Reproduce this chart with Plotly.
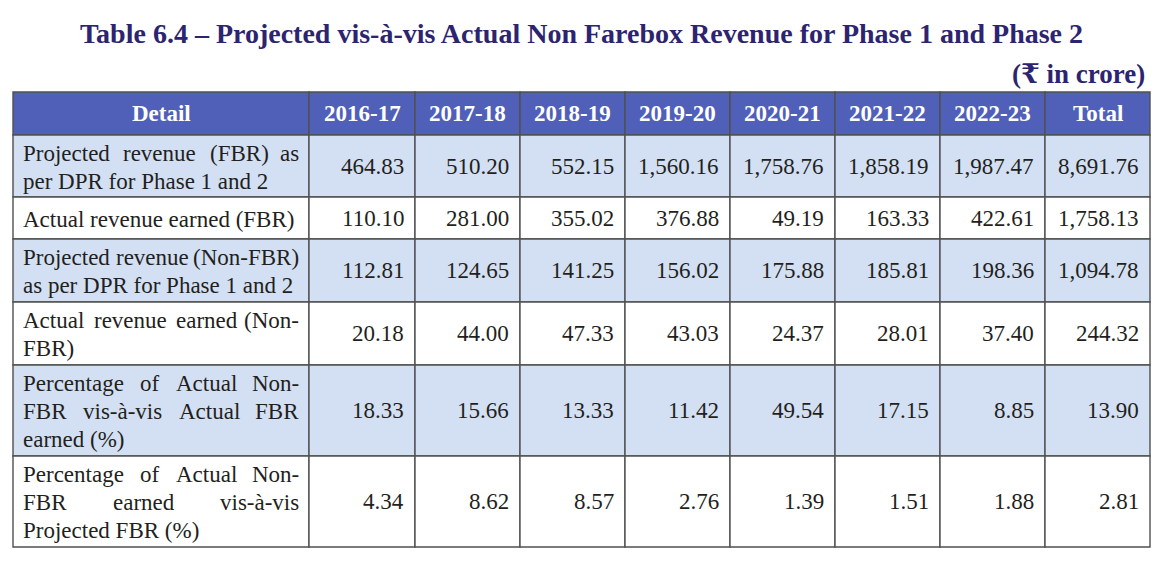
import plotly.graph_objects as go

# ---- table data -------------------------------------------------------
title = "Table 6.4 – Projected vis-à-vis Actual Non Farebox Revenue for Phase 1 and Phase 2"
unit_note = "(₹ in crore)"
header = ["Detail", "2016-17", "2017-18", "2018-19", "2019-20",
          "2020-21", "2021-22", "2022-23", "Total"]

# detail text, already broken into the lines shown in the report
details = [
    ["Projected revenue (FBR) as", "per DPR for Phase 1 and 2"],
    ["Actual revenue earned (FBR)"],
    ["Projected revenue (Non-FBR)", "as per DPR for Phase 1 and 2"],
    ["Actual revenue earned (Non-", "FBR)"],
    ["Percentage of Actual Non-", "FBR vis-à-vis Actual FBR", "earned (%)"],
    ["Percentage of Actual Non-", "FBR earned vis-à-vis", "Projected FBR (%)"],
]

proj_fbr  = [464.83, 510.20, 552.15, 1560.16, 1758.76, 1858.19, 1987.47, 8691.76]
act_fbr   = [110.10, 281.00, 355.02, 376.88, 49.19, 163.33, 422.61, 1758.13]
proj_nfbr = [112.81, 124.65, 141.25, 156.02, 175.88, 185.81, 198.36, 1094.78]
act_nfbr  = [20.18, 44.00, 47.33, 43.03, 24.37, 28.01, 37.40, 244.32]
pct_act   = [18.33, 15.66, 13.33, 11.42, 49.54, 17.15, 8.85, 13.90]
pct_proj  = [4.34, 8.62, 8.57, 2.76, 1.39, 1.51, 1.88, 2.81]

values = [proj_fbr, act_fbr, proj_nfbr, act_nfbr, pct_act, pct_proj]

# ---- layout (pixel grid) ----------------------------------------------
WIDTH, HEIGHT = 1165, 562
col_edges = [13, 309, 415, 520, 625, 730, 835, 940, 1045, 1150]
row_edges = [92, 135, 197, 239, 302, 365, 456, 547]

SERIF = "Liberation Serif, Times New Roman, DejaVu Serif, serif"
TITLE_COLOR = "#2d2470"
HEAD_FILL = "#5060b9"
LIGHT_FILL = "#d3e0f3"
LINE_COLOR = "#505050"
TEXT_COLOR = "#231f20"
FONT_SIZE = 23
LINE_GAP = 28

# Times-style advance widths (per 1000 em) for justifying the Detail column
CHAR_W = {
    " ": 250, "(": 333, ")": 333, "-": 333, "%": 833, ".": 250,
    "A": 722, "B": 667, "D": 722, "F": 556, "N": 722, "P": 556, "R": 667,
    "a": 444, "c": 444, "d": 500, "e": 444, "f": 333, "g": 500, "h": 500,
    "i": 278, "j": 278, "l": 278, "n": 500, "o": 500, "p": 500, "r": 333,
    "s": 389, "t": 278, "u": 500, "v": 500, "à": 444,
}


def text_width(s, size=FONT_SIZE):
    return sum(CHAR_W.get(c, 500) for c in s) * size / 1000


fig = go.Figure()
annotations = []
shapes = []

# cell backgrounds + borders
for r in range(len(row_edges) - 1):
    if r == 0:
        fill = HEAD_FILL
    else:
        fill = LIGHT_FILL if r % 2 == 1 else "white"
    for c in range(len(col_edges) - 1):
        shapes.append(dict(
            type="rect", xref="x", yref="y", layer="below",
            x0=col_edges[c], x1=col_edges[c + 1],
            y0=row_edges[r], y1=row_edges[r + 1],
            fillcolor=fill, line=dict(color=LINE_COLOR, width=1.4),
        ))


def add_text(x, y, text, anchor="left", color=TEXT_COLOR, size=FONT_SIZE, bold=False):
    annotations.append(dict(
        x=x, y=y, xref="x", yref="y", text=f"<b>{text}</b>" if bold else text,
        showarrow=False, xanchor=anchor, yanchor="middle", borderpad=0,
        font=dict(family=SERIF, size=size, color=color),
    ))


# title and unit note
add_text(581, 33, title, anchor="center", color=TITLE_COLOR, size=28, bold=True)
add_text(1146, 74, unit_note, anchor="right", color=TITLE_COLOR, size=27, bold=True)

# header row
head_mid = (row_edges[0] + row_edges[1]) / 2
for c, label in enumerate(header):
    add_text((col_edges[c] + col_edges[c + 1]) / 2, head_mid, label,
             anchor="center", color="white", size=23, bold=True)

# body rows
text_x0 = col_edges[0] + 9
text_x1 = col_edges[1] - 9
for r, (lines, row_vals) in enumerate(zip(details, values)):
    top, bot = row_edges[r + 1], row_edges[r + 2]
    mid = (top + bot) / 2 + 1
    n = len(lines)
    for i, line in enumerate(lines):
        y = mid + (i - (n - 1) / 2) * LINE_GAP
        words = line.split(" ")
        if i == n - 1 or len(words) == 1:
            add_text(text_x0, y, line)
            continue
        widths = [text_width(w) for w in words]
        gap = (text_x1 - text_x0 - sum(widths)) / (len(words) - 1)
        x = text_x0
        for k, w in enumerate(words):
            if k == len(words) - 1:
                add_text(text_x1, y, w, anchor="right")
            else:
                add_text(x, y, w)
            x += widths[k] + gap
    for c, v in enumerate(row_vals):
        add_text(col_edges[c + 2] - 10, mid - 1, f"{v:,.2f}", anchor="right")

fig.update_layout(
    width=WIDTH, height=HEIGHT,
    margin=dict(l=0, r=0, t=0, b=0),
    paper_bgcolor="white", plot_bgcolor="white",
    xaxis=dict(range=[0, WIDTH], visible=False, fixedrange=True),
    yaxis=dict(range=[HEIGHT, 0], visible=False, fixedrange=True),
    shapes=shapes, annotations=annotations,
    showlegend=False,
)

# drop the browser's default body margin so the grid lines up with the window
fig.write_html("out.html", config={"displayModeBar": False},
               post_script="document.body.style.margin = '0';")
